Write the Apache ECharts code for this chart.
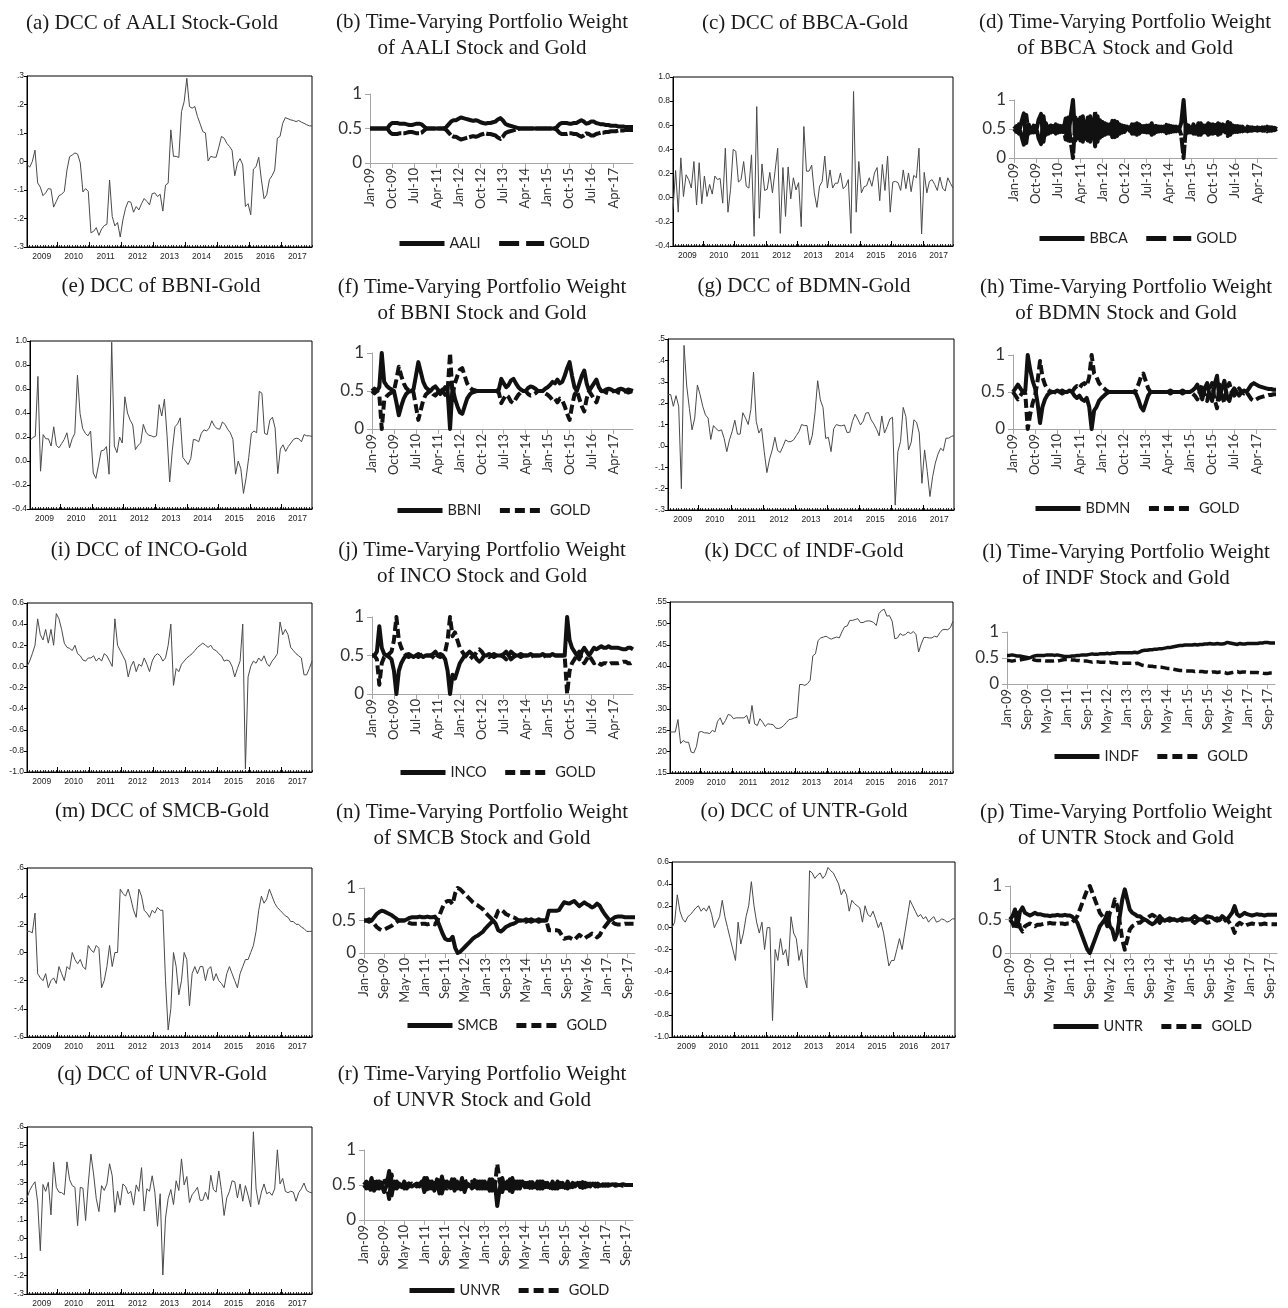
<!DOCTYPE html>
<html><head><meta charset="utf-8">
<script src="https://cdn.jsdelivr.net/npm/echarts@6/dist/echarts.min.js"></script>
<style>html,body{margin:0;padding:0;background:#fff}#c{width:1288px;height:1308px}</style>
</head><body><div id="c"></div>
<script>
// ---------- tick labels ----------
const years = ['2009','2010','2011','2012','2013','2014','2015','2016','2017'];
const monthAbbr = ['Jan','Feb','Mar','Apr','May','Jun','Jul','Aug','Sep','Oct','Nov','Dec'];
const months = [];
years.forEach(y => monthAbbr.forEach(m => months.push(m + '-' + y.slice(2))));

// ---------- DCC series (monthly, Jan 2009 - Dec 2017) ----------
const dccAALI = [-0.01,-0.02,0.0,0.04,-0.075,-0.09,-0.12,-0.11,-0.095,-0.097,-0.16,-0.14,
-0.12,-0.115,-0.105,-0.03,0.017,0.023,0.03,0.026,-0.005,-0.107,-0.095,-0.105,
-0.25,-0.245,-0.232,-0.259,-0.237,-0.225,-0.22,-0.065,-0.193,-0.226,-0.214,-0.265,
-0.205,-0.164,-0.14,-0.143,-0.178,-0.158,-0.17,-0.148,-0.13,-0.14,-0.152,-0.113,
-0.11,-0.123,-0.115,-0.174,-0.083,-0.076,0.111,0.018,0.018,0.014,0.175,0.21,
0.292,0.193,0.187,0.193,0.158,0.132,0.105,0.1,0.002,0.018,0.015,0.015,
0.05,0.088,0.082,0.064,0.053,0.039,-0.05,-0.006,0.01,-0.012,-0.158,-0.148,
-0.187,-0.027,-0.018,0.015,-0.064,-0.131,-0.117,-0.064,-0.05,-0.03,0.082,0.088,
0.134,0.154,0.15,0.146,0.144,0.14,0.144,0.138,0.134,0.129,0.125,0.125];
const dccBBCA = [-0.095,0.225,-0.12,0.33,0.01,0.19,0.15,0.08,0.30,-0.06,0.29,-0.05,
0.18,0.01,0.11,0.03,0.18,0.15,0.16,-0.045,0.41,-0.12,0.07,0.40,
0.385,0.13,0.15,0.30,0.095,0.08,0.355,-0.32,0.755,-0.17,0.28,0.06,
0.07,0.21,0.04,0.22,0.41,-0.295,0.25,-0.155,0.255,-0.01,0.165,0.065,
0.125,-0.24,0.59,0.22,0.22,0.27,0.04,-0.08,0.095,0.135,0.345,0.08,
0.23,0.08,0.12,0.12,0.205,0.075,0.095,0.15,-0.295,0.88,-0.12,0.30,
0.04,0.09,0.10,0.165,0.095,0.205,0.25,-0.025,0.275,0.06,0.345,-0.12,
0.13,0.135,0.125,0.06,0.23,0.075,0.205,0.05,0.185,0.165,0.41,-0.30,
0.21,0.04,0.135,0.15,0.11,0.06,0.17,0.08,0.055,0.165,0.12,0.08];
const dccBBNI = [0.17,0.195,0.205,0.705,-0.085,0.22,0.185,0.185,0.125,0.285,0.13,0.11,
0.145,0.18,0.235,0.11,0.185,0.23,0.715,0.395,0.27,0.23,0.21,0.25,
-0.1,-0.145,-0.035,0.085,0.09,0.12,-0.11,0.99,0.125,0.07,0.2,0.15,
0.535,0.4,0.34,0.3,0.095,0.13,0.15,0.305,0.24,0.215,0.21,0.2,
0.21,0.47,0.375,0.515,0.215,-0.175,0.09,0.285,0.31,0.36,0.03,0.0,
-0.03,0.02,0.18,0.175,0.16,0.23,0.26,0.25,0.275,0.335,0.29,0.27,
0.265,0.325,0.305,0.265,0.235,0.18,-0.11,0.0,-0.065,-0.27,-0.14,0.03,
0.23,0.25,0.235,0.58,0.565,0.23,0.22,0.34,0.365,0.275,-0.105,0.1,
0.135,0.08,0.12,0.15,0.18,0.19,0.185,0.16,0.22,0.21,0.21,0.205];
const dccBDMN = [0.24,0.24,0.185,0.235,0.185,-0.2,0.47,0.28,0.175,0.075,0.13,0.285,
0.24,0.185,0.145,0.13,0.03,0.095,0.08,0.07,0.075,0.035,-0.027,0.028,
0.067,0.12,0.055,0.055,0.155,0.13,0.1,0.17,0.345,0.115,0.06,0.083,
-0.027,-0.125,-0.062,-0.019,0.04,-0.022,-0.031,-0.003,0.028,0.02,0.02,0.028,
0.048,0.067,0.1,0.095,0.095,0.005,0.05,0.155,0.305,0.215,0.18,0.035,
0.04,-0.027,0.08,0.1,0.095,0.094,0.098,0.062,0.064,0.115,0.148,0.125,
0.098,0.115,0.153,0.156,0.122,0.103,0.078,0.047,0.14,0.06,0.09,0.126,
0.134,-0.277,-0.027,0.02,0.18,0.137,-0.019,0.017,0.122,0.11,0.06,-0.175,
-0.019,-0.12,-0.237,-0.144,-0.081,-0.039,-0.011,-0.023,0.036,0.036,0.044,0.048];
const dccINCO = [0.0,0.05,0.12,0.2,0.45,0.3,0.25,0.35,0.22,0.35,0.2,0.5,
0.45,0.35,0.22,0.18,0.17,0.15,0.2,0.12,0.1,0.06,0.05,0.08,
0.08,0.1,0.05,0.08,0.05,0.12,0.1,0.05,0.0,0.45,0.2,0.15,
0.1,0.05,-0.1,0.0,0.05,-0.05,0.02,0.0,0.08,0.02,-0.05,0.05,
0.1,0.12,0.1,0.05,0.08,0.2,0.4,-0.18,-0.02,-0.05,0.02,0.05,
0.08,0.1,0.12,0.15,0.18,0.2,0.22,0.2,0.18,0.2,0.16,0.15,
0.12,0.1,0.05,0.06,0.05,0.0,-0.1,-0.02,0.05,0.4,-0.97,-0.1,
0.0,0.05,0.03,0.08,0.05,0.1,0.03,0.0,0.05,0.08,0.12,0.42,
0.3,0.35,0.3,0.18,0.15,0.12,0.1,0.08,-0.08,-0.08,-0.02,0.05];
const dccINDF = [0.246,0.246,0.246,0.275,0.219,0.226,0.222,0.222,0.199,0.197,0.212,0.246,
0.247,0.244,0.244,0.242,0.25,0.246,0.271,0.279,0.263,0.273,0.287,0.285,
0.277,0.279,0.279,0.279,0.279,0.285,0.265,0.308,0.265,0.261,0.277,0.269,
0.259,0.265,0.264,0.263,0.255,0.254,0.256,0.261,0.268,0.275,0.276,0.279,
0.28,0.357,0.357,0.355,0.359,0.367,0.424,0.429,0.46,0.466,0.468,0.47,
0.466,0.463,0.466,0.468,0.466,0.48,0.492,0.494,0.507,0.507,0.509,0.511,
0.502,0.502,0.505,0.506,0.505,0.502,0.495,0.523,0.53,0.533,0.517,0.518,
0.505,0.464,0.466,0.476,0.472,0.474,0.48,0.476,0.481,0.474,0.433,0.452,
0.467,0.467,0.466,0.466,0.47,0.468,0.478,0.485,0.486,0.485,0.49,0.505];
const dccSMCB = [0.15,0.15,0.14,0.28,-0.15,-0.18,-0.2,-0.15,-0.25,-0.2,-0.18,-0.22,
-0.1,-0.15,-0.2,-0.1,-0.12,0.0,-0.05,-0.08,-0.05,-0.1,-0.12,0.05,
0.02,0.0,0.05,0.03,-0.25,-0.2,-0.1,0.05,-0.1,0.0,0.0,0.45,
0.42,0.4,0.45,0.38,0.3,0.25,0.45,0.4,0.3,0.28,0.25,0.3,
0.28,0.32,0.3,0.3,-0.2,-0.55,-0.4,0.0,-0.1,-0.3,-0.2,0.0,
-0.05,-0.38,-0.15,-0.1,-0.15,-0.1,-0.1,-0.2,-0.12,-0.1,-0.2,-0.15,
-0.2,-0.22,-0.25,-0.15,-0.1,-0.15,-0.2,-0.25,-0.15,-0.1,-0.05,-0.05,
0.0,0.05,0.15,0.3,0.4,0.35,0.38,0.45,0.4,0.35,0.32,0.3,
0.28,0.26,0.25,0.22,0.22,0.2,0.2,0.18,0.17,0.15,0.15,0.15];
const dccUNTR = [0.0,0.05,0.3,0.15,0.08,0.05,0.1,0.12,0.15,0.18,0.2,0.15,
0.18,0.15,0.2,0.12,0.0,0.05,0.1,0.25,0.1,0.0,-0.1,-0.2,
-0.3,0.05,-0.15,-0.05,0.1,0.2,0.42,0.2,0.05,-0.05,0.05,-0.2,
0.0,0.0,-0.85,-0.2,-0.3,-0.1,-0.25,-0.2,-0.35,0.1,-0.05,-0.1,
-0.3,-0.2,-0.45,-0.55,0.52,0.5,0.45,0.48,0.5,0.45,0.48,0.55,
0.52,0.5,0.45,0.4,0.3,0.35,0.3,0.15,0.25,0.22,0.2,0.18,
0.05,0.2,0.12,0.1,0.15,0.08,0.0,0.05,-0.05,-0.2,-0.35,-0.3,
-0.3,-0.2,-0.1,-0.2,-0.05,0.1,0.25,0.2,0.15,0.1,0.12,0.08,
0.1,0.05,0.08,0.1,0.05,0.06,0.08,0.07,0.05,0.06,0.08,0.08];
const dccUNVR = [0.218,0.258,0.284,0.305,0.196,-0.067,0.29,0.253,0.302,0.126,0.41,0.275,
0.249,0.246,0.235,0.412,0.316,0.284,0.275,0.068,0.275,0.27,0.096,0.293,
0.454,0.346,0.214,0.144,0.284,0.258,0.293,0.402,0.337,0.14,0.253,0.179,
0.293,0.279,0.24,0.253,0.179,0.288,0.253,0.381,0.147,0.267,0.254,0.337,
0.249,0.065,0.24,-0.198,0.109,0.214,0.263,0.182,0.31,0.258,0.428,0.288,
0.333,0.193,0.235,0.253,0.275,0.205,0.205,0.249,0.209,0.34,0.263,0.249,
0.363,0.258,0.123,0.218,0.253,0.31,0.305,0.218,0.293,0.2,0.284,0.232,
0.17,0.574,0.267,0.182,0.249,0.293,0.24,0.249,0.232,0.267,0.477,0.293,
0.323,0.253,0.246,0.254,0.249,0.2,0.246,0.267,0.298,0.258,0.249,0.245];

// ---------- time-varying portfolio weights (stock, gold) ----------
const wAALI = [0.5,0.5,0.5,0.5,0.5,0.5,0.5,0.5,0.55,0.58,0.58,0.58,
0.57,0.57,0.57,0.56,0.55,0.55,0.56,0.57,0.57,0.56,0.53,0.5,
0.5,0.5,0.5,0.5,0.5,0.5,0.5,0.52,0.56,0.6,0.62,0.62,
0.64,0.66,0.65,0.64,0.63,0.62,0.61,0.62,0.61,0.59,0.58,0.57,
0.58,0.58,0.59,0.6,0.63,0.65,0.62,0.57,0.55,0.54,0.53,0.52,
0.51,0.5,0.5,0.5,0.5,0.5,0.5,0.5,0.5,0.5,0.5,0.5,
0.5,0.5,0.5,0.5,0.52,0.56,0.58,0.58,0.58,0.57,0.57,0.58,
0.58,0.6,0.62,0.6,0.57,0.58,0.6,0.6,0.58,0.57,0.56,0.56,
0.55,0.55,0.54,0.54,0.54,0.53,0.53,0.53,0.52,0.52,0.52,0.52];
const gAALI = [0.5,0.5,0.5,0.5,0.5,0.5,0.5,0.5,0.45,0.42,0.42,0.42,
0.43,0.43,0.43,0.44,0.45,0.45,0.44,0.43,0.43,0.44,0.47,0.5,
0.5,0.5,0.5,0.5,0.5,0.5,0.5,0.48,0.44,0.4,0.38,0.38,
0.36,0.34,0.35,0.36,0.37,0.38,0.39,0.38,0.39,0.41,0.42,0.43,
0.42,0.42,0.41,0.4,0.37,0.35,0.38,0.43,0.45,0.46,0.47,0.48,
0.49,0.5,0.5,0.5,0.5,0.5,0.5,0.5,0.5,0.5,0.5,0.5,
0.5,0.5,0.5,0.5,0.48,0.44,0.42,0.42,0.42,0.43,0.43,0.42,
0.42,0.4,0.38,0.4,0.43,0.42,0.4,0.4,0.42,0.43,0.44,0.44,
0.45,0.45,0.46,0.46,0.46,0.47,0.47,0.47,0.48,0.48,0.48,0.48];
const wBBCA = [0.5,0.55,0.42,0.62,0.77,0.26,0.58,0.44,0.56,0.45,0.66,0.76,
0.28,0.6,0.42,0.56,0.45,0.58,0.44,0.55,0.45,0.68,0.3,0.7,
1.0,0.3,0.66,0.3,0.72,0.33,0.7,0.28,0.62,0.2,0.72,0.35,
0.62,0.4,0.58,0.42,0.64,0.36,0.62,0.42,0.56,0.45,0.54,0.47,
0.58,0.42,0.6,0.42,0.55,0.45,0.56,0.44,0.6,0.42,0.55,0.46,
0.54,0.46,0.57,0.44,0.55,0.46,0.54,0.47,0.6,1.0,0.42,0.56,
0.44,0.58,0.42,0.6,0.4,0.56,0.44,0.6,0.42,0.58,0.43,0.6,
0.42,0.58,0.44,0.62,0.4,0.56,0.45,0.55,0.46,0.54,0.47,0.54,
0.47,0.53,0.48,0.53,0.48,0.53,0.47,0.54,0.47,0.53,0.48,0.5];
const gBBCA = [0.5,0.45,0.58,0.38,0.23,0.74,0.42,0.56,0.44,0.55,0.34,0.24,
0.72,0.4,0.58,0.44,0.55,0.42,0.56,0.45,0.55,0.32,0.7,0.3,
0.0,0.7,0.34,0.7,0.28,0.67,0.3,0.72,0.38,0.8,0.28,0.65,
0.38,0.6,0.42,0.58,0.36,0.64,0.38,0.58,0.44,0.55,0.46,0.53,
0.42,0.58,0.4,0.58,0.45,0.55,0.44,0.56,0.4,0.58,0.45,0.54,
0.46,0.54,0.43,0.56,0.45,0.54,0.46,0.53,0.4,0.0,0.58,0.44,
0.56,0.42,0.58,0.4,0.6,0.44,0.56,0.4,0.58,0.42,0.57,0.4,
0.58,0.42,0.56,0.38,0.6,0.44,0.55,0.45,0.54,0.46,0.53,0.46,
0.53,0.47,0.52,0.47,0.52,0.47,0.53,0.46,0.53,0.47,0.52,0.5];
const wBBNI = [0.5,0.53,0.5,0.55,1.0,0.62,0.57,0.54,0.52,0.5,0.35,0.18,
0.3,0.4,0.46,0.49,0.5,0.52,0.7,0.88,0.75,0.62,0.55,0.52,
0.5,0.54,0.56,0.52,0.46,0.5,0.55,0.5,0.0,0.55,0.4,0.3,
0.22,0.2,0.3,0.4,0.45,0.48,0.49,0.5,0.5,0.5,0.5,0.5,
0.5,0.5,0.5,0.5,0.52,0.66,0.6,0.55,0.58,0.64,0.66,0.6,
0.55,0.52,0.5,0.5,0.54,0.56,0.55,0.53,0.5,0.5,0.5,0.53,
0.55,0.58,0.62,0.6,0.65,0.6,0.62,0.7,0.8,0.88,0.7,0.55,
0.5,0.6,0.7,0.77,0.6,0.5,0.55,0.6,0.65,0.55,0.5,0.5,
0.52,0.53,0.52,0.5,0.5,0.52,0.53,0.52,0.5,0.52,0.51,0.5];
const gBBNI = [0.5,0.47,0.5,0.45,0.0,0.38,0.43,0.46,0.48,0.5,0.65,0.82,
0.7,0.6,0.54,0.51,0.5,0.48,0.3,0.12,0.25,0.38,0.45,0.48,
0.5,0.46,0.44,0.48,0.54,0.5,0.45,0.5,1.0,0.45,0.6,0.7,
0.78,0.8,0.7,0.6,0.55,0.52,0.51,0.5,0.5,0.5,0.5,0.5,
0.5,0.5,0.5,0.5,0.48,0.34,0.4,0.45,0.42,0.36,0.34,0.4,
0.45,0.48,0.5,0.5,0.46,0.44,0.45,0.47,0.5,0.5,0.5,0.47,
0.45,0.42,0.38,0.4,0.35,0.4,0.38,0.3,0.2,0.12,0.3,0.45,
0.5,0.4,0.3,0.23,0.4,0.5,0.45,0.4,0.35,0.45,0.5,0.5,
0.48,0.47,0.48,0.5,0.5,0.48,0.47,0.48,0.5,0.48,0.49,0.5];
const wBDMN = [0.5,0.55,0.6,0.55,0.5,0.52,1.0,0.8,0.65,0.55,0.35,0.08,
0.3,0.4,0.46,0.49,0.5,0.5,0.52,0.5,0.48,0.5,0.5,0.52,
0.5,0.45,0.42,0.45,0.4,0.38,0.42,0.3,0.0,0.25,0.3,0.38,
0.42,0.45,0.48,0.5,0.5,0.5,0.5,0.5,0.5,0.5,0.5,0.5,
0.5,0.5,0.48,0.4,0.3,0.25,0.35,0.45,0.5,0.5,0.5,0.5,
0.5,0.5,0.5,0.5,0.52,0.5,0.5,0.5,0.5,0.52,0.5,0.5,
0.5,0.52,0.55,0.6,0.5,0.4,0.55,0.62,0.45,0.38,0.6,0.72,
0.4,0.55,0.65,0.45,0.38,0.5,0.55,0.5,0.45,0.5,0.52,0.5,
0.55,0.6,0.62,0.6,0.58,0.57,0.56,0.55,0.54,0.54,0.53,0.53];
const gBDMN = [0.5,0.45,0.4,0.45,0.5,0.48,0.0,0.2,0.35,0.45,0.65,0.92,
0.7,0.6,0.54,0.51,0.5,0.5,0.48,0.5,0.52,0.5,0.5,0.48,
0.5,0.55,0.58,0.55,0.6,0.62,0.58,0.7,1.0,0.75,0.7,0.62,
0.58,0.55,0.52,0.5,0.5,0.5,0.5,0.5,0.5,0.5,0.5,0.5,
0.5,0.5,0.52,0.6,0.7,0.75,0.65,0.55,0.5,0.5,0.5,0.5,
0.5,0.5,0.5,0.5,0.48,0.5,0.5,0.5,0.5,0.48,0.5,0.5,
0.5,0.48,0.45,0.4,0.5,0.6,0.45,0.38,0.55,0.62,0.4,0.28,
0.6,0.45,0.35,0.55,0.62,0.5,0.45,0.5,0.55,0.5,0.48,0.5,
0.45,0.4,0.38,0.4,0.42,0.43,0.44,0.45,0.46,0.46,0.47,0.47];
const wINCO = [0.5,0.5,0.55,0.88,0.6,0.52,0.5,0.48,0.45,0.3,0.0,0.3,
0.4,0.46,0.5,0.52,0.5,0.48,0.5,0.52,0.5,0.48,0.5,0.5,
0.5,0.52,0.55,0.5,0.48,0.5,0.45,0.3,0.0,0.25,0.2,0.3,
0.4,0.45,0.5,0.52,0.55,0.52,0.5,0.45,0.42,0.45,0.5,0.5,
0.52,0.5,0.48,0.5,0.5,0.5,0.52,0.55,0.5,0.45,0.48,0.5,
0.5,0.52,0.5,0.5,0.5,0.52,0.5,0.5,0.5,0.5,0.52,0.5,
0.5,0.5,0.52,0.5,0.5,0.5,0.5,0.5,1.0,0.7,0.6,0.55,
0.5,0.45,0.55,0.6,0.55,0.5,0.55,0.6,0.58,0.6,0.62,0.6,
0.6,0.62,0.6,0.6,0.6,0.6,0.59,0.58,0.58,0.6,0.6,0.58];
const gINCO = [0.5,0.5,0.45,0.12,0.4,0.48,0.5,0.52,0.55,0.7,1.0,0.7,
0.6,0.54,0.5,0.48,0.5,0.52,0.5,0.48,0.5,0.52,0.5,0.5,
0.5,0.48,0.45,0.5,0.52,0.5,0.55,0.7,1.0,0.75,0.8,0.7,
0.6,0.55,0.5,0.48,0.45,0.48,0.5,0.55,0.58,0.55,0.5,0.5,
0.48,0.5,0.52,0.5,0.5,0.5,0.48,0.45,0.5,0.55,0.52,0.5,
0.5,0.48,0.5,0.5,0.5,0.48,0.5,0.5,0.5,0.5,0.48,0.5,
0.5,0.5,0.48,0.5,0.5,0.5,0.5,0.5,0.0,0.3,0.4,0.45,
0.5,0.55,0.45,0.4,0.45,0.5,0.45,0.4,0.42,0.4,0.38,0.4,
0.4,0.38,0.4,0.4,0.4,0.4,0.41,0.42,0.42,0.4,0.4,0.42];
const wINDF = [0.55,0.55,0.56,0.55,0.54,0.54,0.53,0.52,0.51,0.5,0.52,0.54,
0.55,0.55,0.55,0.55,0.56,0.56,0.56,0.55,0.56,0.55,0.54,0.53,
0.53,0.53,0.54,0.54,0.55,0.55,0.56,0.56,0.56,0.57,0.58,0.57,
0.57,0.58,0.58,0.58,0.59,0.58,0.59,0.59,0.6,0.6,0.6,0.6,
0.6,0.6,0.6,0.61,0.6,0.62,0.64,0.65,0.65,0.66,0.66,0.67,
0.67,0.68,0.68,0.69,0.7,0.7,0.71,0.72,0.73,0.74,0.74,0.75,
0.75,0.75,0.75,0.76,0.75,0.76,0.76,0.77,0.77,0.78,0.77,0.77,
0.78,0.77,0.77,0.78,0.8,0.79,0.78,0.77,0.76,0.78,0.77,0.77,
0.78,0.78,0.78,0.78,0.78,0.79,0.79,0.8,0.8,0.79,0.79,0.79];
const gINDF = [0.45,0.45,0.44,0.45,0.46,0.46,0.47,0.48,0.49,0.5,0.48,0.46,
0.45,0.45,0.45,0.45,0.44,0.44,0.44,0.45,0.44,0.45,0.46,0.47,
0.47,0.47,0.46,0.46,0.45,0.45,0.44,0.44,0.44,0.43,0.42,0.43,
0.43,0.42,0.42,0.42,0.41,0.42,0.41,0.41,0.4,0.4,0.4,0.4,
0.4,0.4,0.4,0.39,0.4,0.38,0.36,0.35,0.35,0.34,0.34,0.33,
0.33,0.32,0.32,0.31,0.3,0.3,0.29,0.28,0.27,0.26,0.26,0.25,
0.25,0.25,0.25,0.24,0.25,0.24,0.24,0.23,0.23,0.22,0.23,0.23,
0.22,0.23,0.23,0.22,0.2,0.21,0.22,0.23,0.24,0.22,0.23,0.23,
0.22,0.22,0.22,0.22,0.22,0.21,0.21,0.2,0.2,0.21,0.21,0.21];
const wSMCB = [0.5,0.5,0.52,0.5,0.55,0.6,0.63,0.65,0.64,0.62,0.6,0.58,
0.55,0.52,0.5,0.5,0.5,0.52,0.54,0.55,0.55,0.55,0.56,0.55,
0.55,0.56,0.55,0.55,0.56,0.5,0.4,0.3,0.22,0.2,0.2,0.25,
0.08,0.0,0.02,0.06,0.1,0.14,0.18,0.22,0.25,0.27,0.3,0.33,
0.38,0.42,0.46,0.5,0.45,0.35,0.33,0.36,0.4,0.42,0.44,0.45,
0.47,0.5,0.5,0.5,0.52,0.5,0.52,0.5,0.5,0.52,0.5,0.5,
0.5,0.65,0.65,0.65,0.65,0.66,0.72,0.78,0.77,0.76,0.78,0.8,
0.76,0.72,0.75,0.78,0.75,0.73,0.7,0.72,0.76,0.73,0.66,0.6,
0.55,0.5,0.52,0.55,0.56,0.56,0.56,0.55,0.55,0.55,0.55,0.55];
const gSMCB = [0.5,0.5,0.48,0.5,0.45,0.4,0.37,0.35,0.36,0.38,0.4,0.42,
0.45,0.48,0.5,0.5,0.5,0.48,0.46,0.45,0.45,0.45,0.44,0.45,
0.45,0.44,0.45,0.45,0.44,0.5,0.6,0.7,0.78,0.8,0.8,0.75,
0.92,1.0,0.98,0.94,0.9,0.86,0.82,0.78,0.75,0.73,0.7,0.67,
0.62,0.58,0.54,0.5,0.55,0.65,0.67,0.64,0.6,0.58,0.56,0.55,
0.53,0.5,0.5,0.5,0.48,0.5,0.48,0.5,0.5,0.48,0.5,0.5,
0.5,0.35,0.35,0.35,0.35,0.34,0.28,0.22,0.23,0.24,0.22,0.2,
0.24,0.28,0.25,0.22,0.25,0.27,0.3,0.28,0.24,0.27,0.34,0.4,
0.45,0.5,0.48,0.45,0.44,0.44,0.44,0.45,0.45,0.45,0.45,0.45];
const wUNTR = [0.5,0.55,0.65,0.4,0.62,0.68,0.6,0.58,0.56,0.58,0.6,0.58,
0.58,0.57,0.56,0.56,0.55,0.56,0.56,0.57,0.56,0.56,0.57,0.56,
0.56,0.54,0.5,0.45,0.35,0.25,0.15,0.05,0.0,0.1,0.2,0.3,
0.4,0.45,0.5,0.6,0.4,0.35,0.2,0.3,0.55,0.8,0.95,0.8,
0.65,0.6,0.58,0.55,0.55,0.52,0.5,0.48,0.45,0.43,0.45,0.5,
0.55,0.5,0.48,0.5,0.52,0.5,0.5,0.48,0.5,0.52,0.5,0.5,
0.5,0.52,0.55,0.52,0.5,0.5,0.52,0.55,0.54,0.53,0.5,0.48,
0.5,0.55,0.52,0.5,0.55,0.6,0.7,0.58,0.55,0.57,0.6,0.58,
0.57,0.56,0.57,0.58,0.57,0.57,0.56,0.57,0.57,0.57,0.57,0.57];
const gUNTR = [0.5,0.45,0.35,0.6,0.38,0.32,0.4,0.42,0.44,0.42,0.4,0.42,
0.42,0.43,0.44,0.44,0.45,0.44,0.44,0.43,0.44,0.44,0.43,0.44,
0.44,0.46,0.5,0.55,0.65,0.75,0.85,0.95,1.0,0.9,0.8,0.7,
0.6,0.55,0.5,0.4,0.6,0.65,0.8,0.7,0.45,0.2,0.05,0.2,
0.35,0.4,0.42,0.45,0.45,0.48,0.5,0.52,0.55,0.57,0.55,0.5,
0.45,0.5,0.52,0.5,0.48,0.5,0.5,0.52,0.5,0.48,0.5,0.5,
0.5,0.48,0.45,0.48,0.5,0.5,0.48,0.45,0.46,0.47,0.5,0.52,
0.5,0.45,0.48,0.5,0.45,0.4,0.3,0.42,0.45,0.43,0.4,0.42,
0.43,0.44,0.43,0.42,0.43,0.43,0.44,0.43,0.43,0.43,0.43,0.43];
const wUNVR = [0.5,0.55,0.45,0.6,0.42,0.55,0.45,0.5,0.4,0.5,0.7,0.35,
0.55,0.45,0.52,0.47,0.55,0.45,0.52,0.48,0.5,0.52,0.48,0.55,
0.4,0.6,0.45,0.55,0.42,0.58,0.38,0.62,0.45,0.55,0.47,0.58,
0.42,0.55,0.45,0.6,0.4,0.52,0.5,0.45,0.57,0.45,0.55,0.45,
0.55,0.45,0.58,0.42,0.55,0.2,0.45,0.6,0.45,0.55,0.42,0.6,
0.45,0.55,0.45,0.55,0.47,0.53,0.46,0.54,0.47,0.55,0.45,0.55,
0.47,0.53,0.46,0.55,0.45,0.55,0.47,0.53,0.46,0.55,0.47,0.53,
0.48,0.53,0.47,0.54,0.47,0.52,0.48,0.52,0.48,0.52,0.49,0.51,
0.49,0.51,0.5,0.51,0.49,0.5,0.5,0.51,0.5,0.5,0.5,0.5];
const gUNVR = [0.5,0.45,0.55,0.4,0.58,0.45,0.55,0.5,0.6,0.5,0.3,0.65,
0.45,0.55,0.48,0.53,0.45,0.55,0.48,0.52,0.5,0.48,0.52,0.45,
0.6,0.4,0.55,0.45,0.58,0.42,0.62,0.38,0.55,0.45,0.53,0.42,
0.58,0.45,0.55,0.4,0.6,0.48,0.5,0.55,0.43,0.55,0.45,0.55,
0.45,0.55,0.42,0.58,0.45,0.8,0.55,0.4,0.55,0.45,0.58,0.4,
0.55,0.45,0.55,0.45,0.53,0.47,0.54,0.46,0.53,0.45,0.55,0.45,
0.53,0.47,0.54,0.45,0.55,0.45,0.53,0.47,0.54,0.45,0.53,0.47,
0.52,0.47,0.53,0.46,0.53,0.48,0.52,0.48,0.52,0.48,0.51,0.49,
0.51,0.49,0.5,0.49,0.51,0.5,0.5,0.49,0.5,0.5,0.5,0.5];

// ---------- panel layout ----------
const dccPanels = [
 {title:'(a) DCC of AALI Stock-Gold', data:dccAALI, box:[27,76,312,247], tx:152, ty:23, min:-0.3, max:0.3, step:0.1, dec:1, strip:true},
 {title:'(c) DCC of BBCA-Gold', data:dccBBCA, box:[673,77,953,246], tx:805, ty:23, min:-0.4, max:1.0, step:0.2, dec:1, strip:false},
 {title:'(e) DCC of BBNI-Gold', data:dccBBNI, box:[30,341,312,509], tx:161, ty:286, min:-0.4, max:1.0, step:0.2, dec:1, strip:false},
 {title:'(g) DCC of BDMN-Gold', data:dccBDMN, box:[668,339,954,510], tx:804, ty:286, min:-0.3, max:0.5, step:0.1, dec:1, strip:true},
 {title:'(i) DCC of INCO-Gold', data:dccINCO, box:[27,603,312,772], tx:149, ty:550, min:-1.0, max:0.6, step:0.2, dec:1, strip:false},
 {title:'(k) DCC of INDF-Gold', data:dccINDF, box:[670,602,953,773], tx:804, ty:551, min:0.15, max:0.55, step:0.05, dec:2, strip:true},
 {title:'(m) DCC of SMCB-Gold', data:dccSMCB, box:[27,868,312,1037], tx:162, ty:811, min:-0.6, max:0.6, step:0.2, dec:1, strip:true},
 {title:'(o) DCC of UNTR-Gold', data:dccUNTR, box:[672,862,955,1037], tx:804, ty:811, min:-1.0, max:0.6, step:0.2, dec:1, strip:false},
 {title:'(q) DCC of UNVR-Gold', data:dccUNVR, box:[27,1127,312,1298], tx:162, ty:1074, min:-0.3, max:0.6, step:0.1, dec:1, strip:true}
];
const wPanels = [
 {t1:'(b) Time-Varying Portfolio Weight', t2:'of AALI Stock and Gold', name:'AALI', s:wAALI, g:gAALI, box:[370,94,633,163], tx:482, ty:22, every:8, legL:392, legY:240, longDash:true, lw:4},
 {t1:'(d) Time-Varying Portfolio Weight', t2:'of BBCA Stock and Gold', name:'BBCA', s:wBBCA, g:gBBCA, box:[1014,100,1277,158], tx:1125, ty:22, every:8, legL:1032, legY:235, longDash:true, lw:4},
 {t1:'(f) Time-Varying Portfolio Weight', t2:'of BBNI Stock and Gold', name:'BBNI', s:wBBNI, g:gBBNI, box:[372,353,633,429], tx:482, ty:287, every:8, legL:390, legY:507, longDash:false, lw:4},
 {t1:'(h) Time-Varying Portfolio Weight', t2:'of BDMN Stock and Gold', name:'BDMN', s:wBDMN, g:gBDMN, box:[1013,355,1276,429], tx:1126, ty:287, every:8, legL:1028, legY:505, longDash:false, lw:4},
 {t1:'(j) Time-Varying Portfolio Weight', t2:'of INCO Stock and Gold', name:'INCO', s:wINCO, g:gINCO, box:[372,617,633,694], tx:482, ty:550, every:8, legL:393, legY:769, longDash:false, lw:4},
 {t1:'(l) Time-Varying Portfolio Weight', t2:'of INDF Stock and Gold', name:'INDF', s:wINDF, g:gINDF, box:[1007,632,1275,684], tx:1126, ty:552, every:7, legL:1047, legY:753, longDash:false, lw:3.5},
 {t1:'(n) Time-Varying Portfolio Weight', t2:'of SMCB Stock and Gold', name:'SMCB', s:wSMCB, g:gSMCB, box:[364,888,635,953], tx:482, ty:812, every:7, legL:400, legY:1022, longDash:false, lw:4},
 {t1:'(p) Time-Varying Portfolio Weight', t2:'of UNTR Stock and Gold', name:'UNTR', s:wUNTR, g:gUNTR, box:[1010,886,1277,953], tx:1126, ty:812, every:7, legL:1046, legY:1023, longDash:false, lw:4},
 {t1:'(r) Time-Varying Portfolio Weight', t2:'of UNVR Stock and Gold', name:'UNVR', s:wUNVR, g:gUNVR, box:[364,1150,633,1220], tx:482, ty:1074, every:7, legL:402, legY:1287, longDash:false, lw:4}
];

const SERIF = '"Liberation Serif", "Times New Roman", serif';
const SANS = 'Lato, "Liberation Sans", sans-serif';
const ARIAL = '"Liberation Sans", Arial, sans-serif';
const INK = '#111';

const option = {animation:false, backgroundColor:'#fff', grid:[], xAxis:[], yAxis:[], series:[], legend:[], graphic:[]};

function titleText(text, x, y) {
  option.graphic.push({type:'text', x:x, y:y, silent:true,
    style:{text:text, fill:'#1a1a1a', font:'21px ' + SERIF, textAlign:'center', textVerticalAlign:'middle'}});
}
const yearTicks = years.slice(1).map((y, i) => 11.5 + 12 * i);
const yearLabelPos = years.map((y, i) => 5.5 + 12 * i);

dccPanels.forEach(p => {
  const gi = option.grid.length;
  const b = p.box;
  option.grid.push({left:b[0], top:b[1], width:b[2]-b[0], height:b[3]-b[1], show:true, borderColor:'#000', borderWidth:1});
  const xi = option.xAxis.length;
  const n = p.data.length - 1;
  option.xAxis.push({type:'value', gridIndex:gi, position:'bottom', min:0, max:n, interval:1,
    axisLine:{show:true, onZero:false, lineStyle:{color:'#000', width:1}},
    axisTick:{show:true, inside:true, length:2, lineStyle:{color:'#000', width:0.8}},
    axisLabel:{show:false}, splitLine:{show:false}});
  option.xAxis.push({type:'value', gridIndex:gi, position:'bottom', min:0, max:n,
    axisLine:{show:false, onZero:false},
    axisTick:{show:true, inside:true, length:5, customValues:yearTicks, lineStyle:{color:'#000', width:1}},
    axisLabel:{show:true, customValues:yearLabelPos, margin:5, fontSize:8.5, color:'#222', fontFamily:ARIAL,
      formatter: v => years[Math.round((v - 5.5) / 12)] || ''},
    splitLine:{show:false}});
  const yi = option.yAxis.length;
  option.yAxis.push({type:'value', gridIndex:gi, position:'left', min:p.min, max:p.max, interval:p.step,
    axisLine:{show:true, onZero:false, lineStyle:{color:'#000', width:1}},
    axisTick:{show:true, inside:false, length:3, lineStyle:{color:'#000'}},
    axisLabel:{fontSize:8.5, color:'#222', fontFamily:ARIAL, margin:3,
      formatter: v => { if (Math.abs(v) < 1e-9) v = 0; let s = v.toFixed(p.dec); if (p.strip) s = s.replace(/^(-?)0\./, '$1.'); return s; }},
    splitLine:{show:false}});
  option.series.push({type:'line', xAxisIndex:xi, yAxisIndex:yi, data:p.data.map((v, i) => [i, v]),
    symbol:'none', silent:true, lineStyle:{color:'#4a4a4a', width:1}});
  titleText(p.title, p.tx, p.ty);
});

wPanels.forEach((p, k) => {
  const gi = option.grid.length;
  const b = p.box;
  option.grid.push({left:b[0], top:b[1], width:b[2]-b[0], height:b[3]-b[1]});
  const xi = option.xAxis.length;
  option.xAxis.push({type:'category', gridIndex:gi, position:'bottom', data:months, boundaryGap:false,
    axisLine:{show:true, onZero:false, lineStyle:{color:'#a6a6a6', width:1}},
    axisTick:{show:true, interval:p.every, length:5, lineStyle:{color:'#a6a6a6'}},
    axisLabel:{interval:p.every, rotate:90, fontSize:13, color:'#333', fontFamily:SANS, margin:5},
    splitLine:{show:false}});
  const yi = option.yAxis.length;
  option.yAxis.push({type:'value', gridIndex:gi, min:0, max:1, interval:0.5,
    axisLine:{show:true, onZero:false, lineStyle:{color:'#a6a6a6', width:1}},
    axisTick:{show:true, length:5, lineStyle:{color:'#a6a6a6'}},
    axisLabel:{fontSize:17, color:'#333', fontFamily:SANS, margin:8, formatter: v => String(+v.toFixed(1))},
    splitLine:{show:false}});
  const gname = 'GOLD#' + k;
  const dash = p.longDash ? [16, 2] : [9, 4];
  option.series.push({type:'line', name:p.name, xAxisIndex:xi, yAxisIndex:yi, data:p.s, symbol:'none', silent:true,
    lineStyle:{color:INK, width:p.lw, type:'solid', join:'round'}, itemStyle:{color:INK}});
  option.series.push({type:'line', name:gname, xAxisIndex:xi, yAxisIndex:yi, data:p.g, symbol:'none', silent:true,
    lineStyle:{color:INK, width:p.lw, type:dash, join:'round'}, itemStyle:{color:INK}});
  option.legend.push({left:p.legL, top:p.legY - 9, itemWidth:45, itemHeight:14, itemGap:16, selectedMode:false,
    textStyle:{fontSize:14.5, color:'#222', fontFamily:SANS},
    formatter: nm => nm.split('#')[0],
    data:[
      {name:p.name, itemStyle:{opacity:0}, lineStyle:{width:5, type:'solid', color:INK}},
      {name:gname, itemStyle:{opacity:0}, lineStyle:{width:5, type: p.longDash ? [20, 7] : [10, 5], color:INK}}
    ]});
  titleText(p.t1, p.tx, p.ty);
  titleText(p.t2, p.tx, p.ty + 26);
});

const chart = echarts.init(document.getElementById('c'), null, {renderer:'canvas'});
chart.setOption(option);
</script>
</body></html>
